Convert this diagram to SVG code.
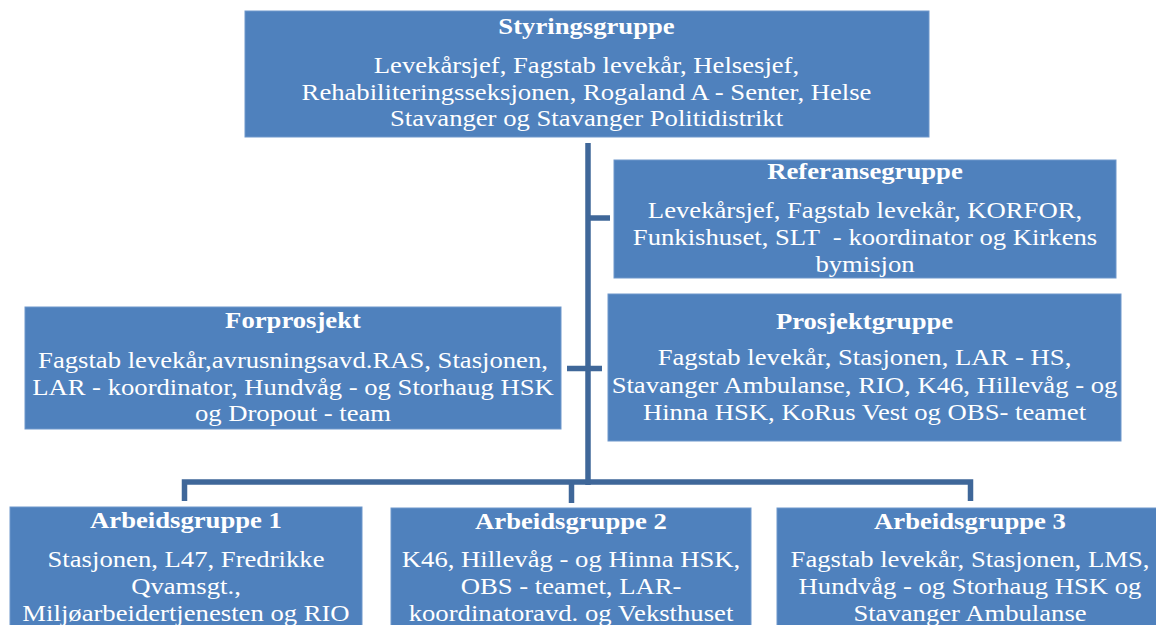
<svg xmlns="http://www.w3.org/2000/svg" width="1156" height="625" viewBox="0 0 1156 625">
<style>
.box{fill:#4F81BD;stroke:#6E97CB;stroke-width:1}
.t{font-family:"Liberation Serif","Times New Roman",serif;fill:#FFFFFF;text-anchor:middle;font-size:23px}
.h{font-weight:bold}
.conn{stroke:#3F6799;stroke-width:5.5;fill:none;stroke-linecap:butt;stroke-linejoin:miter}
</style>
<rect width="1156" height="625" fill="#FFFFFF"/>
<g id="connectors">
<path class="conn" d="M588,143 V485"/>
<path class="conn" d="M588,218 H610"/>
<path class="conn" d="M567,368.5 H602"/>
<path class="conn" d="M184.5,501 V482 H970.5 V501"/>
<path class="conn" d="M571.5,482 V503"/>
</g>
<g id="styringsgruppe">
<rect class="box" x="245" y="11" width="684" height="126"/>
<g transform="translate(586.5,0) scale(1.16,1)">
<text class="t h" x="0" y="34">Styringsgruppe</text>
<text class="t" x="0" y="73.5">Levekårsjef, Fagstab levekår, Helsesjef,</text>
<text class="t" x="0" y="100">Rehabiliteringsseksjonen, Rogaland A - Senter, Helse</text>
<text class="t" x="0" y="126.5">Stavanger og Stavanger Politidistrikt</text>
</g>
</g>
<g id="referansegruppe">
<rect class="box" x="614" y="160" width="502" height="118"/>
<g transform="translate(865,0) scale(1.16,1)">
<text class="t h" x="0" y="179">Referansegruppe</text>
<text class="t" x="0" y="218.5">Levekårsjef, Fagstab levekår, KORFOR,</text>
<text class="t" x="0" y="245.5" xml:space="preserve">Funkishuset, SLT  - koordinator og Kirkens</text>
<text class="t" x="0" y="272.5">bymisjon</text>
</g>
</g>
<g id="forprosjekt">
<rect class="box" x="25" y="307" width="536" height="122"/>
<g transform="translate(293,0) scale(1.16,1)">
<text class="t h" x="0" y="328.5">Forprosjekt</text>
<text class="t" x="0" y="368.5">Fagstab levekår,avrusningsavd.RAS, Stasjonen,</text>
<text class="t" x="0" y="395">LAR - koordinator, Hundvåg - og Storhaug HSK</text>
<text class="t" x="0" y="421.5">og Dropout - team</text>
</g>
</g>
<g id="prosjektgruppe">
<rect class="box" x="608" y="294" width="513" height="147"/>
<g transform="translate(864.5,0) scale(1.16,1)">
<text class="t h" x="0" y="329">Prosjektgruppe</text>
<text class="t" x="0" y="365.5">Fagstab levekår, Stasjonen, LAR - HS,</text>
<text class="t" x="0" y="393">Stavanger Ambulanse, RIO, K46, Hillevåg - og</text>
<text class="t" x="0" y="420.5">Hinna HSK, KoRus Vest og OBS- teamet</text>
</g>
</g>
<g id="arbeidsgruppe1">
<rect class="box" x="10" y="507" width="352" height="130"/>
<g transform="translate(186,0) scale(1.16,1)">
<text class="t h" x="0" y="528">Arbeidsgruppe 1</text>
<text class="t" x="0" y="567">Stasjonen, L47, Fredrikke</text>
<text class="t" x="0" y="594">Qvamsgt.,</text>
<text class="t" x="0" y="621">Miljøarbeidertjenesten og RIO</text>
</g>
</g>
<g id="arbeidsgruppe2">
<rect class="box" x="391" y="508" width="360" height="130"/>
<g transform="translate(571,0) scale(1.16,1)">
<text class="t h" x="0" y="529">Arbeidsgruppe 2</text>
<text class="t" x="0" y="567">K46, Hillevåg - og Hinna HSK,</text>
<text class="t" x="0" y="594">OBS - teamet, LAR-</text>
<text class="t" x="0" y="621">koordinatoravd. og Veksthuset</text>
</g>
</g>
<g id="arbeidsgruppe3">
<rect class="box" x="777" y="508" width="386" height="130"/>
<g transform="translate(970,0) scale(1.16,1)">
<text class="t h" x="0" y="529">Arbeidsgruppe 3</text>
<text class="t" x="0" y="567">Fagstab levekår, Stasjonen, LMS,</text>
<text class="t" x="0" y="594">Hundvåg - og Storhaug HSK og</text>
<text class="t" x="0" y="621">Stavanger Ambulanse</text>
</g>
</g>
</svg>
